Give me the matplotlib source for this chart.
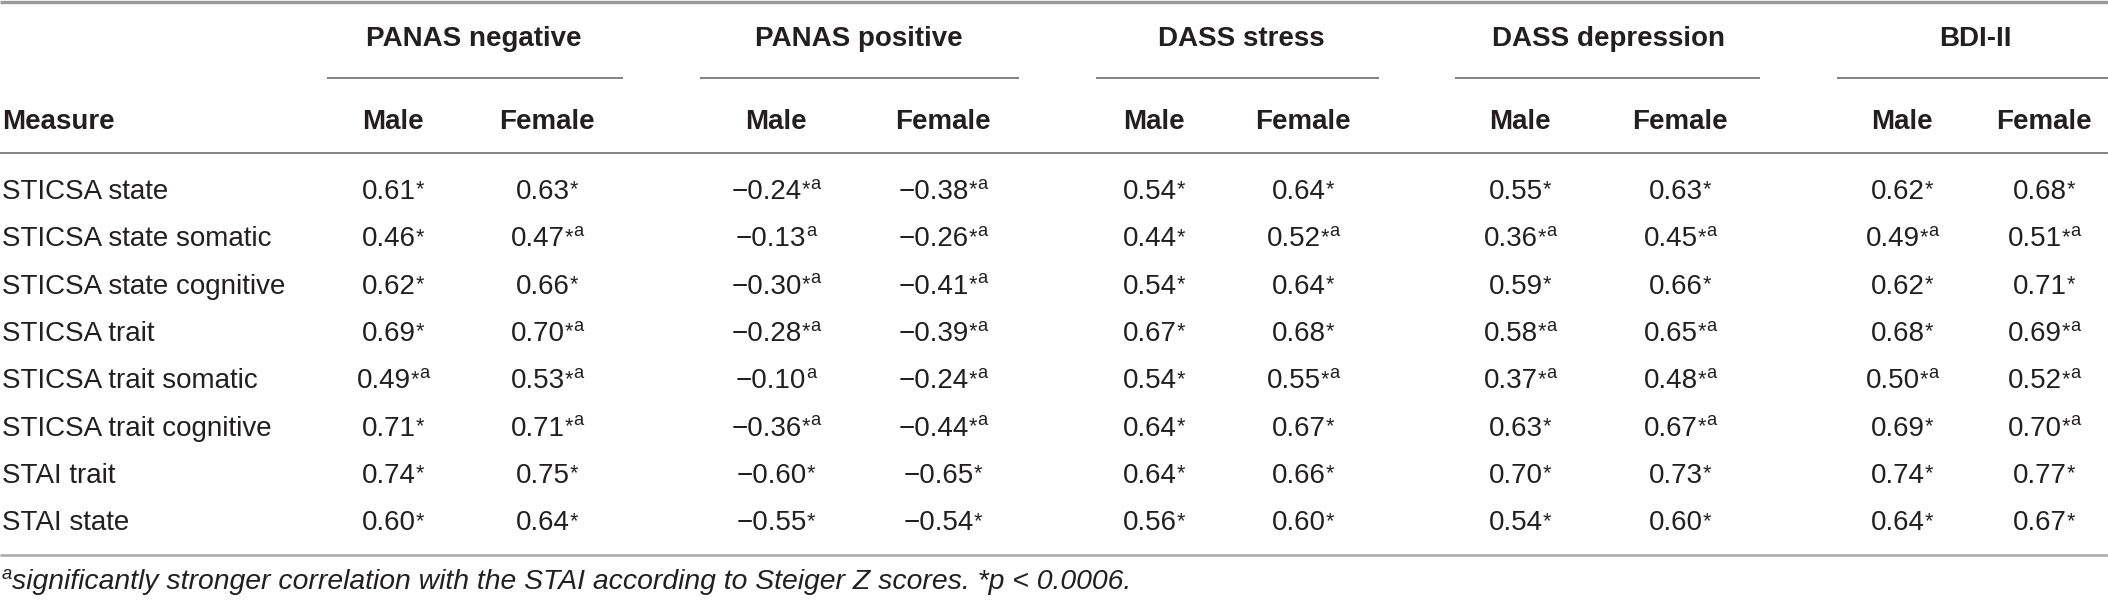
import matplotlib
matplotlib.use("Agg")
import matplotlib.pyplot as plt

# table content
measures = ["STICSA state", "STICSA state somatic", "STICSA state cognitive",
            "STICSA trait", "STICSA trait somatic", "STICSA trait cognitive",
            "STAI trait", "STAI state"]
groups = ["PANAS negative", "PANAS positive", "DASS stress", "DASS depression", "BDI-II"]
sexes = ["Male", "Female"]

panas_neg_male = [0.61, 0.46, 0.62, 0.69, 0.49, 0.71, 0.74, 0.60]
panas_neg_male_mk = ["*", "*", "*", "*", "*a", "*", "*", "*"]
panas_neg_female = [0.63, 0.47, 0.66, 0.70, 0.53, 0.71, 0.75, 0.64]
panas_neg_female_mk = ["*", "*a", "*", "*a", "*a", "*a", "*", "*"]

panas_pos_male = [-0.24, -0.13, -0.30, -0.28, -0.10, -0.36, -0.60, -0.55]
panas_pos_male_mk = ["*a", "a", "*a", "*a", "a", "*a", "*", "*"]
panas_pos_female = [-0.38, -0.26, -0.41, -0.39, -0.24, -0.44, -0.65, -0.54]
panas_pos_female_mk = ["*a", "*a", "*a", "*a", "*a", "*a", "*", "*"]

dass_str_male = [0.54, 0.44, 0.54, 0.67, 0.54, 0.64, 0.64, 0.56]
dass_str_male_mk = ["*", "*", "*", "*", "*", "*", "*", "*"]
dass_str_female = [0.64, 0.52, 0.64, 0.68, 0.55, 0.67, 0.66, 0.60]
dass_str_female_mk = ["*", "*a", "*", "*", "*a", "*", "*", "*"]

dass_dep_male = [0.55, 0.36, 0.59, 0.58, 0.37, 0.63, 0.70, 0.54]
dass_dep_male_mk = ["*", "*a", "*", "*a", "*a", "*", "*", "*"]
dass_dep_female = [0.63, 0.45, 0.66, 0.65, 0.48, 0.67, 0.73, 0.60]
dass_dep_female_mk = ["*", "*a", "*", "*a", "*a", "*a", "*", "*"]

bdi_male = [0.62, 0.49, 0.62, 0.68, 0.50, 0.69, 0.74, 0.64]
bdi_male_mk = ["*", "*a", "*", "*", "*a", "*", "*", "*"]
bdi_female = [0.68, 0.51, 0.71, 0.69, 0.52, 0.70, 0.77, 0.67]
bdi_female_mk = ["*", "*a", "*", "*a", "*a", "*a", "*", "*"]

columns = [(panas_neg_male, panas_neg_male_mk), (panas_neg_female, panas_neg_female_mk),
           (panas_pos_male, panas_pos_male_mk), (panas_pos_female, panas_pos_female_mk),
           (dass_str_male, dass_str_male_mk), (dass_str_female, dass_str_female_mk),
           (dass_dep_male, dass_dep_male_mk), (dass_dep_female, dass_dep_female_mk),
           (bdi_male, bdi_male_mk), (bdi_female, bdi_female_mk)]

footnote = "significantly stronger correlation with the STAI according to Steiger Z scores. *p < 0.0006."

# layout (pixels)
W, H = 2108, 601
col_x = [393, 547, 776, 943, 1154, 1303, 1520, 1680, 1902, 2044]
grp_x = [474, 859, 1241, 1608, 1975]
grp_lines = [(327, 623), (700, 1019), (1096, 1379), (1455, 1760), (1837, 2108)]
row_y0, row_dy = 199, 47.3
FS = 20.0
INK = "#231f20"

plt.rcParams['font.family'] = ['Liberation Sans', 'DejaVu Sans']

fig = plt.figure(figsize=(W / 100, H / 100), dpi=100)
ax = fig.add_axes([0, 0, 1, 1])
ax.set_xlim(0, W)
ax.set_ylim(H, 0)
ax.axis("off")
renderer = fig.canvas.get_renderer()
px = 100 / 72.0  # pixels per point


def draw_parts(x, y, parts, ha="center", style="normal"):
    # parts: (text, size, rise in em of FS)
    objs = []
    widths = []
    for s, size, rise in parts:
        t = ax.text(0, y - rise * FS * px, s, fontsize=size, color=INK,
                    ha="left", va="baseline", style=style)
        widths.append(t.get_window_extent(renderer).width)
        objs.append(t)
    total = sum(widths)
    x0 = x - total / 2 if ha == "center" else x
    for t, w in zip(objs, widths):
        t.set_x(x0)
        x0 += w


def cell_parts(v, mk):
    txt = f"{v:.2f}".replace("-", "\u2212")
    parts = [(txt, FS, 0)]
    for ch in mk:
        if ch == "*":
            parts.append(("*", FS * 0.78, 0.12))
        else:
            parts.append(("a", FS * 0.66, 0.37))
    return parts


# rules
ax.plot([0, W], [1.5, 1.5], color="#9a9a9a", lw=2.4, solid_capstyle="butt")
for x1, x2 in grp_lines:
    ax.plot([x1, x2], [78, 78], color="#6e6e6e", lw=1.2, solid_capstyle="butt")
ax.plot([0, W], [153, 153], color="#6e6e6e", lw=1.2, solid_capstyle="butt")
ax.plot([0, W], [555, 555], color="#a8a8a8", lw=1.8, solid_capstyle="butt")

# headers
for gx, g in zip(grp_x, groups):
    ax.text(gx, 46, g, fontsize=FS, fontweight="bold", color=INK, ha="center", va="baseline")
ax.text(2, 129, "Measure", fontsize=FS, fontweight="bold", color=INK, ha="left", va="baseline")
for i, cx in enumerate(col_x):
    ax.text(cx, 129, sexes[i % 2], fontsize=FS, fontweight="bold", color=INK,
            ha="center", va="baseline")

# body
for r, m in enumerate(measures):
    y = row_y0 + r * row_dy
    ax.text(2, y, m, fontsize=FS, color=INK, ha="left", va="baseline")
    for cx, (vals, mks) in zip(col_x, columns):
        draw_parts(cx, y, cell_parts(vals[r], mks[r]))

# footnote
draw_parts(2, 589, [("a", FS * 0.66, 0.37), (footnote, FS * 1.02, 0)], ha="left", style="italic")

fig.savefig("out.png", dpi=100)
